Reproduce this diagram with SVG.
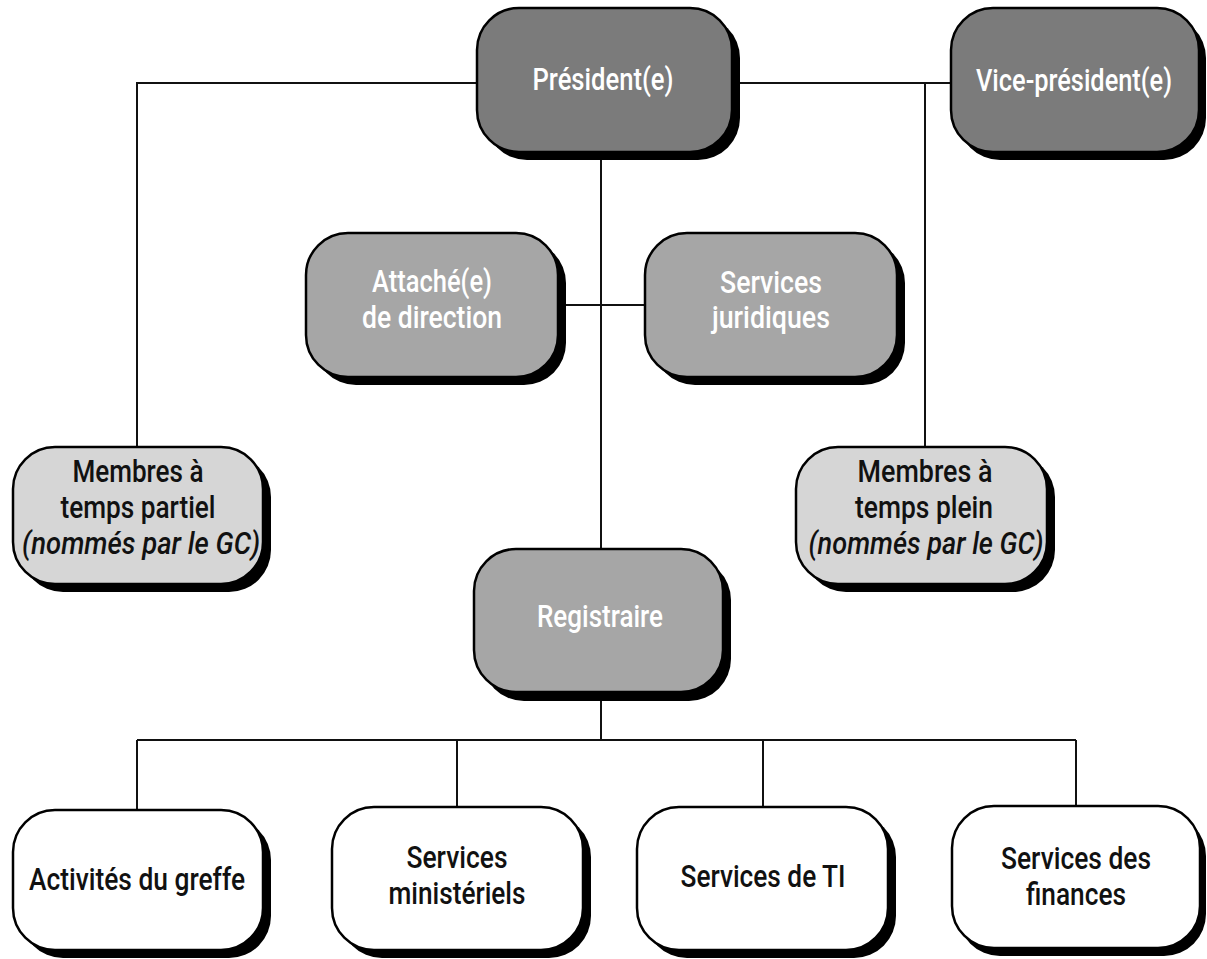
<svg xmlns="http://www.w3.org/2000/svg" width="1207" height="959" viewBox="0 0 1207 959">
<style>
.sh{fill:#000}
.bx{stroke:#000;stroke-width:2.5}
.dark{fill:#7b7b7b}
.mid{fill:#a6a6a6}
.light{fill:#d6d6d6}
.white{fill:#fff}
text{font-family:Roboto,"Liberation Sans",sans-serif;font-size:31px;font-weight:500;text-anchor:middle}
.wt{fill:#fff}
.bt{fill:#111}
.it{font-style:italic}
.cn{fill:none;stroke:#111;stroke-width:2}
</style>
<rect width="1207" height="959" fill="#fff"/>
<g id="connectors">
<path class="cn" d="M477 83H137V447M732 83H951M925 83V447M601 152V549M558 305H645M601 692V740M137 740H1076M137 740V810M457 740V807M763 740V807M1076 740V806"/>
</g>
<g id="president">
<rect class="sh" x="485" y="16" width="255" height="144" rx="42"/>
<rect class="bx dark" x="477" y="8" width="255" height="144" rx="42"/>
<text class="wt" x="603" y="90" textLength="141" lengthAdjust="spacingAndGlyphs">Président(e)</text>
</g>
<g id="vice-president">
<rect class="sh" x="958" y="16" width="248" height="144" rx="42"/>
<rect class="bx dark" x="951" y="8" width="248" height="144" rx="42"/>
<text class="wt" x="1074" y="91" font-size="30" textLength="196" lengthAdjust="spacingAndGlyphs">Vice-président(e)</text>
</g>
<g id="attache">
<rect class="sh" x="314" y="241" width="252" height="144" rx="42"/>
<rect class="bx mid" x="306" y="233" width="252" height="144" rx="42"/>
<text class="wt" x="432" y="292" textLength="120" lengthAdjust="spacingAndGlyphs">Attaché(e)</text>
<text class="wt" x="432" y="328" textLength="140" lengthAdjust="spacingAndGlyphs">de direction</text>
</g>
<g id="services-juridiques">
<rect class="sh" x="653" y="241" width="252" height="144" rx="42"/>
<rect class="bx mid" x="645" y="233" width="252" height="144" rx="42"/>
<text class="wt" x="771" y="293" textLength="102" lengthAdjust="spacingAndGlyphs">Services</text>
<text class="wt" x="771" y="328" textLength="118" lengthAdjust="spacingAndGlyphs">juridiques</text>
</g>
<g id="membres-partiel">
<rect class="sh" x="21" y="455" width="250" height="137" rx="42"/>
<rect class="bx light" x="13" y="447" width="250" height="137" rx="42"/>
<text class="bt" x="138" y="482" textLength="131" lengthAdjust="spacingAndGlyphs">Membres à</text>
<text class="bt" x="138" y="518" textLength="155" lengthAdjust="spacingAndGlyphs">temps partiel</text>
<text class="bt it" x="141" y="554" textLength="238" lengthAdjust="spacingAndGlyphs">(nommés par le GC)</text>
</g>
<g id="membres-plein">
<rect class="sh" x="804" y="455" width="251" height="137" rx="42"/>
<rect class="bx light" x="796" y="447" width="251" height="137" rx="42"/>
<text class="bt" x="925" y="482" textLength="135" lengthAdjust="spacingAndGlyphs">Membres à</text>
<text class="bt" x="924" y="518" textLength="138" lengthAdjust="spacingAndGlyphs">temps plein</text>
<text class="bt it" x="926" y="554" textLength="235" lengthAdjust="spacingAndGlyphs">(nommés par le GC)</text>
</g>
<g id="registraire">
<rect class="sh" x="482" y="558" width="249" height="143" rx="42"/>
<rect class="bx mid" x="474" y="549" width="249" height="143" rx="42"/>
<text class="wt" x="600" y="627" textLength="126" lengthAdjust="spacingAndGlyphs">Registraire</text>
</g>
<g id="activites-greffe">
<rect class="sh" x="21" y="818" width="250" height="140" rx="42"/>
<rect class="bx white" x="13" y="810" width="250" height="140" rx="42"/>
<text class="bt" x="137" y="890" textLength="216" lengthAdjust="spacingAndGlyphs">Activités du greffe</text>
</g>
<g id="services-ministeriels">
<rect class="sh" x="340" y="815" width="251" height="143" rx="42"/>
<rect class="bx white" x="332" y="807" width="251" height="143" rx="42"/>
<text class="bt" x="457" y="868" textLength="101" lengthAdjust="spacingAndGlyphs">Services</text>
<text class="bt" x="457" y="904" textLength="137" lengthAdjust="spacingAndGlyphs">ministériels</text>
</g>
<g id="services-ti">
<rect class="sh" x="645" y="815" width="251" height="143" rx="42"/>
<rect class="bx white" x="637" y="807" width="251" height="143" rx="42"/>
<text class="bt" x="763" y="887" textLength="165" lengthAdjust="spacingAndGlyphs">Services de TI</text>
</g>
<g id="services-finances">
<rect class="sh" x="958" y="814" width="248" height="142" rx="42"/>
<rect class="bx white" x="952" y="806" width="248" height="142" rx="42"/>
<text class="bt" x="1076" y="869" textLength="150" lengthAdjust="spacingAndGlyphs">Services des</text>
<text class="bt" x="1076" y="905" textLength="100" lengthAdjust="spacingAndGlyphs">finances</text>
</g>
</svg>
